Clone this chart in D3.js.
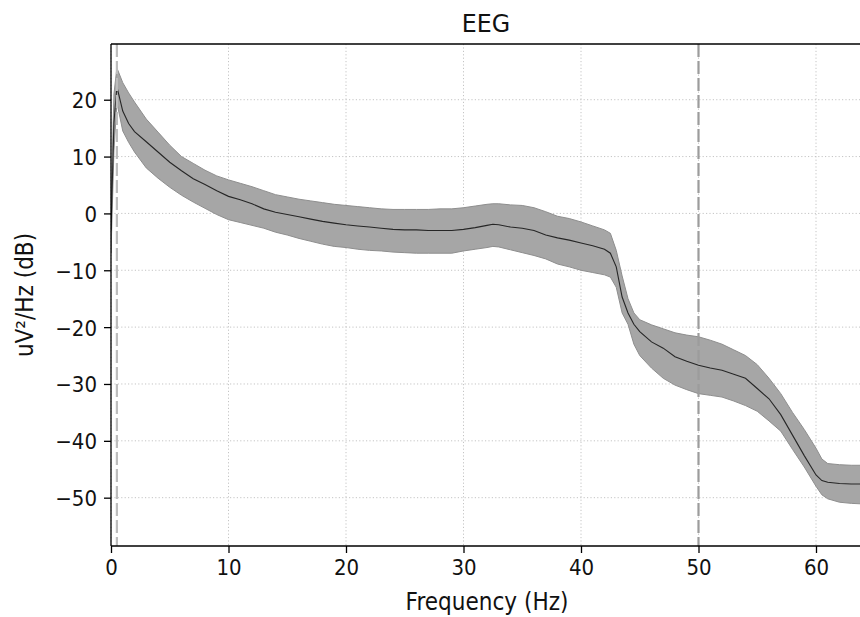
<!DOCTYPE html>
<html>
<head>
<meta charset="utf-8">
<script src="https://cdn.jsdelivr.net/npm/d3@7"></script>
<style>
  html, body { margin: 0; padding: 0; background: #fff; }
  svg { display: block; font-family: "DejaVu Sans", sans-serif; }
</style>
</head>
<body>
<svg id="chart" width="860" height="617"></svg>
<script>
// ---- data ----
const freqs = [0, 0.25, 0.5, 1, 1.5, 2, 3, 4, 5, 6, 7, 8, 9, 10, 11, 12, 13, 14, 15, 16, 17, 18, 19, 20,
  21, 22, 23, 24, 25, 26, 27, 28, 29, 30, 31, 32, 32.5, 33, 34, 35, 36, 37, 38, 39, 40, 41, 42, 42.5,
  43, 43.5, 44, 44.5, 45, 46, 47, 48, 49, 50, 51, 52, 53, 54, 55, 56, 57, 58, 59, 60, 60.5, 61, 62, 63, 64];
const meanDb = [-3, 16, 22.3, 18, 15.8, 14.4, 12.6, 10.8, 9, 7.5, 6.1, 5.1, 4, 3, 2.4, 1.7, 0.8, 0.2, -0.2, -0.6, -1, -1.4, -1.7, -2,
  -2.2, -2.4, -2.6, -2.8, -2.9, -2.9, -3.0, -3.0, -3.0, -2.8, -2.5, -2.1, -1.9, -2.0, -2.4, -2.6, -3.0, -3.8, -4.3, -4.7, -5.2, -5.7, -6.3, -7.0,
  -9.4, -14.7, -17.5, -19.5, -20.8, -22.6, -23.7, -25.2, -26.0, -26.7, -27.2, -27.6, -28.3, -29.0, -30.8, -32.6, -35.4, -39.0, -42.6, -46.0, -47.0, -47.3, -47.5, -47.6, -47.6];
const upperDb = [1, 21, 25.6, 23, 21.2, 19.6, 16.6, 14.3, 12.0, 10.0, 8.8, 7.6, 6.6, 5.9, 5.3, 4.7, 4.0, 3.3, 2.9, 2.5, 2.2, 1.9, 1.6, 1.4,
  1.2, 1.0, 0.8, 0.7, 0.7, 0.7, 0.7, 0.8, 0.8, 1.0, 1.3, 1.6, 1.7, 1.7, 1.5, 1.4, 1.0, 0.3, -0.5, -0.9, -1.5, -2.2, -2.9, -3.5,
  -6.5, -11, -15.0, -17.5, -18.7, -19.6, -20.3, -21.0, -21.4, -21.7, -22.3, -23.0, -24.0, -25.0, -26.6, -29.0, -31.7, -35.0, -38.0, -41.3, -43.2, -44.0, -44.2, -44.3, -44.3];
const lowerDb = [-7, 11, 19.5, 14.5, 12.5, 10.8, 8.0, 6.2, 4.6, 3.2, 2.0, 0.9, -0.2, -1.1, -1.6, -2.1, -2.6, -3.3, -3.8, -4.4, -4.9, -5.4, -5.8, -6,
  -6.3, -6.5, -6.6, -6.8, -6.9, -7.0, -7.0, -7.0, -7.0, -6.6, -6.3, -6.0, -5.8, -5.9, -6.4, -6.9, -7.4, -8.0, -8.9, -9.4, -10, -10.4, -10.8, -11.2,
  -13, -17.5, -19.5, -23.0, -25.0, -27.2, -29.0, -30.2, -31.0, -31.7, -32.0, -32.3, -33.0, -33.8, -34.8, -36.5, -38.3, -41.5, -44.6, -48.0, -49.5, -50.2, -50.8, -51.0, -51.1];
const xTicks = [0, 10, 20, 30, 40, 50, 60];
const yTicks = [-50, -40, -30, -20, -10, 0, 10, 20];
const filterLines = [0.5, 50];
const titleText = "EEG";
const xLabelText = "Frequency (Hz)";
const yLabelText = "uV\u00B2/Hz (dB)";

// ---- layout ----
const svg = d3.select("#chart");
const pL = 111, pR = 863, pT = 44, pB = 546;
const x = d3.scaleLinear().domain([0, 64]).range([pL, pR]);
const y = d3.scaleLinear().domain([-58.5, 29.8]).range([pB, pT]);
const sx = 0.9;

svg.append("defs").append("clipPath").attr("id", "clip")
  .append("rect").attr("x", pL).attr("y", pT).attr("width", pR - pL).attr("height", pB - pT);

// grid
const grid = svg.append("g");
grid.selectAll("line.gx").data(xTicks).join("line")
  .attr("x1", d => x(d)).attr("x2", d => x(d)).attr("y1", pT).attr("y2", pB)
  .attr("stroke", "#c4c4c4").attr("stroke-width", 1).attr("stroke-dasharray", "1.2,2.2");
grid.selectAll("line.gy").data(yTicks).join("line")
  .attr("x1", pL).attr("x2", pR).attr("y1", d => y(d)).attr("y2", d => y(d))
  .attr("stroke", "#c4c4c4").attr("stroke-width", 1).attr("stroke-dasharray", "1.2,2.2");

const data = freqs.map((f, i) => ({ f, m: meanDb[i], u: upperDb[i], l: lowerDb[i] }));
const plot = svg.append("g").attr("clip-path", "url(#clip)");

// band
plot.append("path").datum(data)
  .attr("d", d3.area().x(d => x(d.f)).y0(d => y(d.l)).y1(d => y(d.u)))
  .attr("fill", "#a6a6a6").attr("stroke", "#8e8e8e").attr("stroke-width", 1);

// mean line
plot.append("path").datum(data)
  .attr("d", d3.line().x(d => x(d.f)).y(d => y(d.m)))
  .attr("fill", "none").attr("stroke", "#262626").attr("stroke-width", 1.1);

// filter lines
plot.selectAll("line.filt").data(filterLines).join("line")
  .attr("x1", d => x(d)).attr("x2", d => x(d)).attr("y1", pT).attr("y2", pB)
  .attr("stroke", (d, i) => i === 0 ? "#bdbdbd" : "#9c9c9c")
  .attr("stroke-width", 2.2).attr("stroke-dasharray", "13,4");

// axes
const xAxis = svg.append("g").attr("transform", `translate(0,${pB})`)
  .call(d3.axisBottom(x).tickValues(xTicks).tickSize(7).tickPadding(6).tickFormat(d3.format("d")));
const yAxis = svg.append("g").attr("transform", `translate(${pL},0)`)
  .call(d3.axisLeft(y).tickValues(yTicks).tickSize(7).tickPadding(6).tickFormat(d3.format("d")));
[xAxis, yAxis].forEach(a => {
  a.select(".domain").remove();
  a.selectAll(".tick line").attr("stroke", "#000").attr("stroke-width", 1.3);
  a.selectAll("text").attr("font-size", 22).attr("fill", "#111")
    .attr("font-family", "DejaVu Sans, sans-serif");
});
xAxis.selectAll("text").attr("transform", `scale(${sx},1)`);
yAxis.selectAll("text").attr("transform", `scale(${sx},1)`).attr("x", -14 / sx).attr("dy", "0.36em");

// spines
[[pL, pL, pT, pB], [pL, pR, pB, pB], [pL, pR, pT, pT], [pR, pR, pT, pB]].forEach(s => {
  svg.append("line").attr("x1", s[0]).attr("x2", s[1]).attr("y1", s[2]).attr("y2", s[3])
    .attr("stroke", "#000").attr("stroke-width", 1.3);
});

// labels
svg.append("text").attr("transform", `translate(${(pL + pR) / 2 - 1},32) scale(0.95,1)`)
  .attr("text-anchor", "middle").attr("font-size", 25).attr("fill", "#111").text(titleText);
svg.append("text").attr("transform", `translate(${(pL + pR) / 2},610) scale(${sx},1)`)
  .attr("text-anchor", "middle").attr("font-size", 24).attr("fill", "#111").text(xLabelText);
svg.append("text").attr("transform", `translate(33,${(pT + pB) / 2}) rotate(-90) scale(${sx},1)`)
  .attr("text-anchor", "middle").attr("font-size", 24).attr("fill", "#111").text(yLabelText);
</script>
</body>
</html>
